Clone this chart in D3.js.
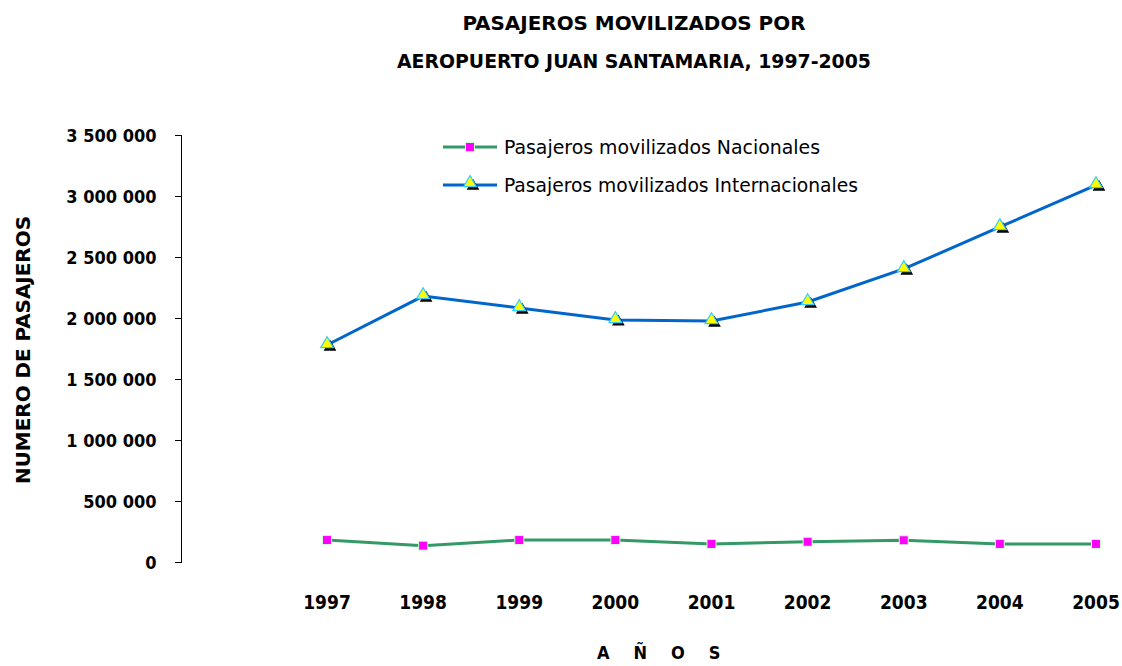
<!DOCTYPE html>
<meta charset="utf-8">
<style type="text/css">
  body {
    margin: 0;
    background: #fff;
    font-family: "DejaVu Sans Condensed", sans-serif;
  }

  .bold {
    font-family: "DejaVu Sans Condensed", sans-serif;
    font-weight: bold;
    fill: #000;
  }

  .axis path,
  .axis line {
    stroke: #000;
    stroke-width: 1px;
    shape-rendering: crispEdges;
  }
</style>
<body></body>
<script src="https://d3js.org/d3.v7.min.js"></script>
<script>
  var years = ["1997", "1998", "1999", "2000", "2001", "2002", "2003", "2004", "2005"];
  var nacionales = [180000, 134000, 180000, 180000, 148000, 166000, 178000, 148000, 148000];
  var internacionales = [1779000, 2180000, 2082000, 1984000, 1975000, 2131000, 2402000, 2746000, 3090000];
  var yTicks = [0, 500000, 1000000, 1500000, 2000000, 2500000, 3000000, 3500000];
  var seriesNames = ["Pasajeros movilizados Nacionales", "Pasajeros movilizados Internacionales"];

  var width = 1122,
    height = 666;

  var x = d3.scalePoint().domain(years).range([327, 1096]),
    y = d3.scaleLinear().domain([0, 3500000]).range([562, 135]);

  var fmt = function(d) {
    return d3.format(",")(d).replace(/,/g, " ");
  };

  var svg = d3.select("body").append("svg")
    .attr("width", width)
    .attr("height", height);

  // title
  svg.append("text").attr("class", "bold")
    .attr("x", 634).attr("y", 30)
    .attr("text-anchor", "middle")
    .attr("textLength", 343).attr("lengthAdjust", "spacingAndGlyphs")
    .style("font-size", "20px")
    .text("PASAJEROS MOVILIZADOS POR");
  svg.append("text").attr("class", "bold")
    .attr("x", 634).attr("y", 68)
    .attr("text-anchor", "middle")
    .attr("textLength", 474).attr("lengthAdjust", "spacingAndGlyphs")
    .style("font-size", "20px")
    .text("AEROPUERTO JUAN SANTAMARIA, 1997-2005");

  // y axis
  var yAxis = d3.axisLeft(y).tickValues(yTicks).tickSize(7).tickPadding(18).tickFormat(fmt);
  var gy = svg.append("g")
    .attr("class", "axis")
    .attr("transform", "translate(181.5,0)")
    .call(yAxis);
  gy.select(".domain").attr("d", "M-7," + y(3500000) + "H0V" + y(0) + "H-7");
  gy.selectAll("text")
    .attr("class", "bold")
    .style("font-size", "18px")
    .attr("dy", "0.36em");

  svg.append("text").attr("class", "bold")
    .attr("transform", "translate(30,350) rotate(-90)")
    .attr("text-anchor", "middle")
    .attr("textLength", 268).attr("lengthAdjust", "spacingAndGlyphs")
    .style("font-size", "19px")
    .text("NUMERO DE PASAJEROS");

  // x labels (no axis line)
  svg.append("g").selectAll("text")
    .data(years)
    .enter().append("text")
    .attr("class", "bold")
    .attr("x", function(d) { return x(d); })
    .attr("y", 609)
    .attr("text-anchor", "middle")
    .style("font-size", "19px")
    .text(function(d) { return d; });

  svg.append("text").attr("class", "bold")
    .attr("x", 597).attr("y", 659)
    .style("font-size", "18px")
    .style("letter-spacing", "24px")
    .text("AÑOS");

  var line = d3.line()
    .x(function(d, i) { return x(years[i]); })
    .y(function(d) { return y(d); });

  // nacionales
  svg.append("path")
    .datum(nacionales)
    .attr("fill", "none")
    .attr("stroke", "#339966")
    .attr("stroke-width", 3)
    .attr("d", line);

  svg.append("g").selectAll("rect")
    .data(nacionales)
    .enter().append("rect")
    .attr("x", function(d, i) { return x(years[i]) - 4.5; })
    .attr("y", function(d) { return y(d) - 4.5; })
    .attr("width", 9).attr("height", 9)
    .attr("fill", "#ff00ff")
    .attr("stroke", "#ccffcc")
    .attr("stroke-width", 1);

  // internacionales
  svg.append("path")
    .datum(internacionales)
    .attr("fill", "none")
    .attr("stroke", "#0066cc")
    .attr("stroke-width", 3)
    .attr("d", line);

  var tri = d3.symbol().type(d3.symbolTriangle).size(70);

  function drawTriangle(g, cx, cy) {
    g.append("path")
      .attr("d", tri)
      .attr("transform", "translate(" + (cx + 3) + "," + (cy + 3) + ")")
      .attr("fill", "#000");
    g.append("path")
      .attr("d", tri)
      .attr("transform", "translate(" + cx + "," + cy + ")")
      .attr("fill", "#ffff00")
      .attr("stroke", "#33ccff")
      .attr("stroke-width", 1.2);
  }

  var gi = svg.append("g");
  internacionales.forEach(function(d, i) {
    drawTriangle(gi, x(years[i]), y(d) - 1);
  });

  // legend
  var legend = svg.append("g");
  legend.append("line")
    .attr("x1", 443).attr("x2", 497).attr("y1", 147).attr("y2", 147)
    .attr("stroke", "#339966").attr("stroke-width", 3);
  legend.append("rect")
    .attr("x", 465.5).attr("y", 142.5).attr("width", 9).attr("height", 9)
    .attr("fill", "#ff00ff").attr("stroke", "#ccffcc");
  legend.append("text")
    .attr("x", 504).attr("y", 154)
    .attr("textLength", 316).attr("lengthAdjust", "spacingAndGlyphs")
    .style("font-size", "19px")
    .text(seriesNames[0]);

  legend.append("line")
    .attr("x1", 443).attr("x2", 497).attr("y1", 185).attr("y2", 185)
    .attr("stroke", "#0066cc").attr("stroke-width", 3);
  drawTriangle(legend, 470, 183);
  legend.append("text")
    .attr("x", 504).attr("y", 192)
    .attr("textLength", 354).attr("lengthAdjust", "spacingAndGlyphs")
    .style("font-size", "19px")
    .text(seriesNames[1]);
</script>
